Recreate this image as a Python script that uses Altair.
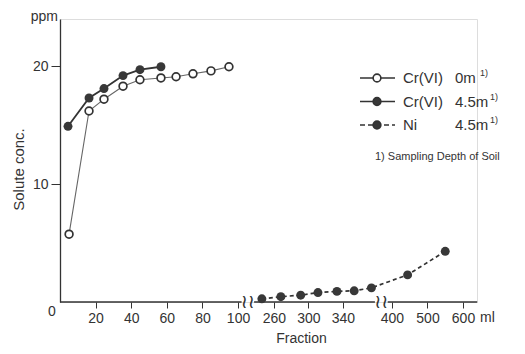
import altair as alt
import pandas as pd

# ---- data ----
cr0_x = [5.1, 16.3, 24.7, 35.4, 44.9, 56.7, 65.2, 74.7, 84.8, 94.9]
cr0_y = [5.75, 16.2, 17.2, 18.3, 18.85, 19.0, 19.1, 19.35, 19.6, 19.95]
cr45_x = [4.5, 16.3, 24.7, 35.4, 44.9, 56.7]
cr45_y = [14.9, 17.3, 18.1, 19.2, 19.7, 19.95]
ni_x = [246, 268, 291, 311, 333, 353, 373, 444, 550]
ni_y = [0.27, 0.45, 0.58, 0.8, 0.9, 0.95, 1.2, 2.3, 4.3]

x_ticks = [20, 40, 60, 80, 100, 260, 300, 340, 400, 500, 600]
y_ticks = [10, 20]
seg_start = [0, 237, 388]
seg_end = [102, 377, 640]
break_at = [169.5, 382.5]

legend_names = ["Cr(VI)", "Cr(VI)", "Ni"]
legend_depths = ["0m", "4.5m", "4.5m"]
footnote = "1) Sampling Depth of Soil"

# ---- layout ----
W, H = 417, 283
FONT = "Liberation Sans"
INK = "#333333"

# broken (piecewise) x axis
x_domain = [0, 102, 237, 377, 388, 600, 640]
x_range = [0, 181.6, 194.1, 314.9, 327.7, 403, 417.2]
xscale = alt.Scale(domain=x_domain, range=x_range, nice=False, zero=False)
yscale = alt.Scale(domain=[0, 24], nice=False, zero=False)

X = alt.X("x:Q", scale=xscale,
          axis=alt.Axis(values=x_ticks, domain=False, grid=False, tickSize=6,
                        tickColor=INK, tickWidth=1, labelPadding=3,
                        labelFont=FONT, labelFontSize=14, labelColor=INK,
                        title="Fraction", titleFont=FONT, titleFontSize=14,
                        titleFontWeight="normal", titleColor=INK,
                        titleX=241, titleY=36, titleAlign="center",
                        titleBaseline="middle", labelFlush=False))
Y = alt.Y("y:Q", scale=yscale,
          axis=alt.Axis(values=y_ticks, domain=True, domainColor=INK, domainWidth=1.3,
                        grid=False, tickSize=9, tickColor=INK, labelPadding=3,
                        labelFont=FONT, labelFontSize=14, labelColor=INK,
                        title="Solute conc.", titleFont=FONT, titleFontSize=15,
                        titleFontWeight="normal", titleColor=INK,
                        titleX=-42, titleY=150, titleAlign="center",
                        titleBaseline="middle", titleAngle=270))

df0 = pd.DataFrame({"x": cr0_x, "y": cr0_y})
df45 = pd.DataFrame({"x": cr45_x, "y": cr45_y})
dfni = pd.DataFrame({"x": ni_x, "y": ni_y})
dfseg = pd.DataFrame({"s": seg_start, "e": seg_end})
dfbrk = pd.DataFrame({"b": break_at, "t": ["≀≀"] * len(break_at)})

axis_line = alt.Chart(dfseg).mark_rule(color=INK, strokeWidth=1.3).encode(
    x=alt.X("s:Q", scale=xscale), x2="e:Q", y=alt.datum(0, scale=yscale))
breaks = alt.Chart(dfbrk).mark_text(font="DejaVu Sans", fontSize=19, color=INK,
                                     baseline="middle", align="center").encode(
    x=alt.X("b:Q", scale=xscale), y=alt.datum(0, scale=yscale), text="t:N")

line0 = alt.Chart(df0).mark_line(color="#666666", strokeWidth=1.1).encode(x=X, y=Y)
line45 = alt.Chart(df45).mark_line(color=INK, strokeWidth=1.8).encode(x=X, y=Y)
lineni = alt.Chart(dfni).mark_line(color=INK, strokeWidth=1.7, strokeDash=[4, 3]).encode(x=X, y=Y)
pts0 = alt.Chart(df0).mark_point(shape="circle", filled=True, fill="white", stroke=INK,
                                 strokeWidth=1.7, size=60, opacity=1).encode(x=X, y=Y)
pts45 = alt.Chart(df45).mark_point(shape="circle", filled=True, fill="#383838",
                                   size=80, opacity=1).encode(x=X, y=Y)
ptsni = alt.Chart(dfni).mark_point(shape="circle", filled=True, fill="#383838",
                                   size=80, opacity=1).encode(x=X, y=Y)

# ---- annotations ----
def label(text, x, y, size=14, align="left", baseline="middle", font=FONT):
    return alt.Chart(pd.DataFrame({"t": [text]})).mark_text(
        font=font, fontSize=size, color=INK, align=align, baseline=baseline).encode(
        x=alt.value(x), y=alt.value(y), text="t:N")

annots = [
    label("ppm", -2, -2, align="right"),
    label("0", -8, 293, align="center"),
    label("ml", 420, 292, baseline="top"),
]

# ---- hand-made legend ----
series_style = [
    dict(fill="white", dash=[1, 0], sup_x=420),
    dict(fill="#383838", dash=[1, 0], sup_x=430),
    dict(fill="#383838", dash=[5, 3], sup_x=430),
]
legend = []
for i, (nm, dp, st) in enumerate(zip(legend_names, legend_depths, series_style)):
    ly = 59 + i * 23.5
    one = pd.DataFrame({"t": [nm]})
    legend.append(alt.Chart(one).mark_rule(color=INK, strokeWidth=1.5, strokeDash=st["dash"]).encode(
        x=alt.value(300), x2=alt.value(335), y=alt.value(ly)))
    legend.append(alt.Chart(one).mark_point(shape="circle", filled=True, fill=st["fill"],
                                            stroke=INK, strokeWidth=1.6, size=60, opacity=1).encode(
        x=alt.value(317), y=alt.value(ly)))
    legend.append(label(nm, 343, ly, size=15))
    legend.append(label(dp, 395, ly, size=15))
    legend.append(label("1)", st["sup_x"], ly - 5, size=9))
legend.append(label(footnote, 315, 138, size=11))

chart = alt.layer(axis_line, breaks, line0, line45, lineni, pts0, pts45, ptsni,
                  *annots, *legend).properties(
    width=W, height=H,
    autosize=alt.AutoSizeParams(type="none"),
    padding={"left": 52, "top": 11, "right": 40, "bottom": 44},
).configure_view(stroke=None).configure(background="white")

chart.save("out.html", embed_options={"renderer": "svg", "actions": False})
